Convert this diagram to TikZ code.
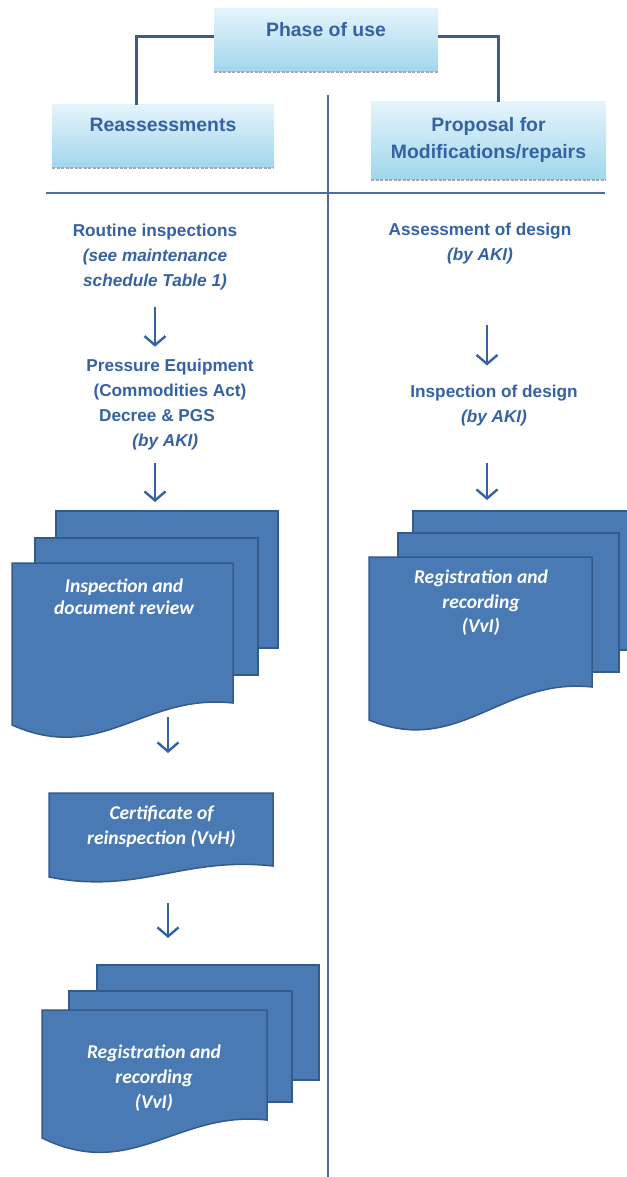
\documentclass[tikz,border=0pt]{standalone}
\usepackage{fontspec}
\setmainfont{Liberation Sans}
\newfontfamily\docfont{Carlito}
\usetikzlibrary{arrows.meta}

\definecolor{txtblue}{RGB}{52,98,163}
\definecolor{lineblue}{RGB}{62,90,135}
\definecolor{divblue}{RGB}{78,110,160}
\definecolor{docblue}{RGB}{74,122,180}
\definecolor{docedge}{RGB}{52,90,140}
\definecolor{hdrtop}{RGB}{228,244,251}
\definecolor{hdrbot}{RGB}{160,214,237}

% sheet with a wavy lower edge: node name, drop of left corner, depth of wave
\newcommand{\wavesheet}[3]{%
  \draw[sheet] (#1.north west) -- (#1.north east) -- (#1.south east)
    .. controls +(-90,-10) and +(90,#3) .. ([yshift=-#2]#1.south west) -- cycle;}

\begin{document}
\begin{tikzpicture}[x=1pt,y=-1pt,inner sep=0pt,outer sep=0pt,
hdrbox/.style={rectangle,top color=hdrtop,bottom color=hdrbot},
hdrline/.style={draw=gray!70,line width=2pt,dash pattern=on 3pt off 1.5pt},
hdrtext/.style={font=\bfseries\fontsize{19.4}{27}\selectfont,text=txtblue,align=center},
bodytext/.style={font=\bfseries\fontsize{17.2}{25}\selectfont,text=txtblue,align=center,anchor=north},
doctext/.style={font=\docfont\bfseries\itshape\fontsize{19.5}{25}\selectfont,text=white,align=center,anchor=north},
sheet/.style={draw=docedge,fill=docblue,line width=1.5pt},
sheetbox/.style={rectangle},
divider/.style={draw=divblue,line width=2pt},
flowarrow/.style={draw=txtblue,line width=2.4pt,-{Straight Barb[length=9pt,width=21pt]}}]

\fill[white] (0,0) rectangle (626,1177);
\useasboundingbox (0,0) rectangle (626,1177);

% header boxes
\draw (326,40.5) node[hdrbox,minimum width=224pt,minimum height=63pt] (phase) {};
\draw (163,136.5) node[hdrbox,minimum width=222pt,minimum height=63pt] (reassess) {};
\draw (488.5,141) node[hdrbox,minimum width=235pt,minimum height=78pt] (proposal) {};
\draw[hdrline] (phase.south west) -- (phase.south east);
\draw[hdrline] (reassess.south west) -- (reassess.south east);
\draw[hdrline] (proposal.south west) -- (proposal.south east);

\draw (326,37) node[hdrtext,anchor=base] (phasetxt) {Phase of use};
\draw (163,132) node[hdrtext,anchor=base] (reassesstxt) {Reassessments};
\draw (488.5,117.8) node[hdrtext,anchor=north] (proposaltxt) {Proposal for\\Modifications/repairs};

\draw[lineblue,line width=3pt] ([yshift=3.5pt]phase.west) -| ([xshift=-27pt]reassess.north);
\draw[lineblue,line width=3pt] ([yshift=3.5pt]phase.east) -| ([xshift=9.5pt]proposal.north);

\draw[divider] (46,193) -- (605,193);
\draw[divider] (328,95) -- (328,1177);

% left column
\draw (155,224.5) node[bodytext] (routine) {Routine inspections\\\textit{(see maintenance}\\\textit{schedule Table 1)}};
\draw (170,358.7) node[bodytext] (pressure) {Pressure Equipment\\(Commodities Act)\\Decree \& PGS\rule{26pt}{0pt}\\\textit{(by AKI)}\rule{9.5pt}{0pt}};

\draw (167,579.5) node[sheet,minimum width=222pt,minimum height=137pt] (s1back) {};
\draw (146.5,606.5) node[sheet,minimum width=223pt,minimum height=137pt] (s1mid) {};
\draw (122.5,633) node[sheetbox,minimum width=221pt,minimum height=140pt] (s1front) {};
\wavesheet{s1front}{22pt}{40}
\draw (124,579) node[doctext,font=\docfont\bfseries\itshape\fontsize{19.5}{21.5}\selectfont] (insptxt) {Inspection and\\document review};

\draw (161,829.5) node[sheetbox,minimum width=224pt,minimum height=73pt] (cert) {};
\wavesheet{cert}{11pt}{18}
\draw (161.5,806) node[doctext] (certtxt) {Certificate of\\reinspection (VvH)};

\draw (208,1022.5) node[sheet,minimum width=222pt,minimum height=115pt] (s2back) {};
\draw (180.5,1046.5) node[sheet,minimum width=223pt,minimum height=111pt] (s2mid) {};
\draw (154.5,1065) node[sheetbox,minimum width=225pt,minimum height=110pt] (s2front) {};
\wavesheet{s2front}{18pt}{44}
\draw (154,1045) node[doctext] (reg2txt) {Registration and\\recording\\(VvI)};

% right column
\draw (480,223.5) node[bodytext] (assess) {Assessment of design\\\textit{(by AKI)}};
\draw (494,385.5) node[bodytext] (inspdesign) {Inspection of design\\\textit{(by AKI)}};

\draw (523.5,580.5) node[sheet,minimum width=221pt,minimum height=139pt] (s3back) {};
\draw (508.5,602.5) node[sheet,minimum width=221pt,minimum height=139pt] (s3mid) {};
\draw (480.5,622) node[sheetbox,minimum width=223pt,minimum height=130pt] (s3front) {};
\wavesheet{s3front}{33pt}{37}
\draw (481,570) node[doctext,font=\docfont\bfseries\itshape\fontsize{19.5}{24.5}\selectfont] (reg3txt) {Registration and\\recording\\(VvI)};

% arrows
\draw[flowarrow,shorten <=16pt,shorten >=12pt] (routine.south) -- (routine.south |- pressure.north);
\draw[flowarrow,shorten <=13pt,shorten >=9pt] ([xshift=-15pt]pressure.south) -- ([xshift=-15pt]pressure.south |- s1back.north);
\draw[flowarrow,shorten <=14pt,shorten >=40pt] ([xshift=45.5pt]s1front.south) -- ([xshift=45.5pt]s1front.south |- cert.north);
\draw[flowarrow,shorten <=37pt,shorten >=27pt] ([xshift=7pt]cert.south) -- ([xshift=7pt]cert.south |- s2back.north);
\draw[flowarrow,shorten <=60pt,shorten >=20pt] ([xshift=7pt]assess.south) -- ([xshift=7pt]assess.south |- inspdesign.north);
\draw[flowarrow,shorten <=36pt,shorten >=11pt] ([xshift=-7pt]inspdesign.south) -- ([xshift=-7pt]inspdesign.south |- s3back.north);

\end{tikzpicture}
\end{document}
